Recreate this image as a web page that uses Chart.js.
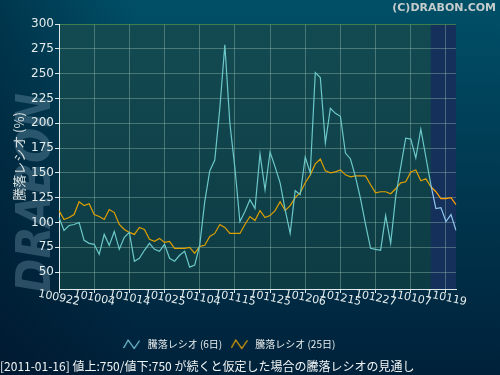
<!DOCTYPE html>
<html>
<head>
<meta charset="utf-8">
<script src="https://cdn.jsdelivr.net/npm/chart.js@4.4.0/dist/chart.umd.min.js"></script>
<style>
  html, body { margin: 0; padding: 0; background: #002a40; }
  #wrap { width: 500px; height: 375px; }
</style>
</head>
<body>
<div id="wrap"><canvas id="chart" width="500" height="375"></canvas></div>
<script>
  // trading days 2010-09-22 .. 2011-01-21 (yymmdd)
  const dates = [
    "100922", "100924", "100927", "100928", "100929", "100930", "101001",
    "101004", "101005", "101006", "101007", "101008", "101012", "101013",
    "101014", "101015", "101018", "101019", "101020", "101021", "101022",
    "101025", "101026", "101027", "101028", "101029", "101101", "101102",
    "101104", "101105", "101108", "101109", "101110", "101111", "101112",
    "101115", "101116", "101117", "101118", "101119", "101122", "101124",
    "101125", "101126", "101129", "101130", "101201", "101202", "101203",
    "101206", "101207", "101208", "101209", "101210", "101213", "101214",
    "101215", "101216", "101217", "101220", "101221", "101222", "101224",
    "101227", "101228", "101229", "101230", "110104", "110105", "110106",
    "110107", "110111", "110112", "110113", "110114", "110117", "110118",
    "110119", "110120", "110121",
  ];
  const tickDates = [
    "100922", "101004", "101014", "101025", "101104", "101115",
    "101125", "101206", "101215", "101227", "110107", "110119",
  ];
  // last real day, after it the values are a projection
  const lastActual = "110114";

  const ratio6 = [
    105, 92, 97, 98, 100, 82, 79, 78, 68, 88,
    77, 91, 73, 85, 90, 61, 64, 72, 79, 73,
    71, 78, 64, 61, 67, 71, 55, 57, 77, 121,
    152, 163, 215, 279, 200, 155, 101, 111, 123, 114,
    169, 133, 171, 156, 140, 113, 89, 132, 128, 166,
    150, 251, 246, 180, 215, 210, 207, 170, 164, 146,
    124, 98, 74, 73, 72, 107, 79, 126, 156, 185,
    184, 165, 194, 166, 138, 114, 115, 101, 108, 92,
  ];
  const ratio25 = [
    112, 103, 105, 108, 121, 117, 119, 108, 106, 103,
    113, 110, 98, 93, 90, 88, 95, 93, 83, 81,
    84, 80, 81, 74, 74, 74, 75, 69, 76, 77,
    86, 89, 98, 95, 89, 89, 89, 98, 106, 102,
    112, 105, 107, 112, 121, 112, 117, 125, 130, 140,
    148, 159, 164, 152, 150, 151, 153, 148, 146, 147,
    147, 147, 138, 130, 131, 131, 129, 134, 140, 141,
    151, 153, 142, 144, 136, 131, 124, 124, 125, 118,
  ];

  const forecastIndex = dates.indexOf(lastActual);
  const gridColor = "rgba(160, 200, 185, 0.38)";
  const axisColor = "#dfe8e8";

  function zigzag(color) {
    const c = document.createElement("canvas");
    c.width = 17;
    c.height = 12;
    const g = c.getContext("2d");
    g.strokeStyle = color;
    g.lineWidth = 1.2;
    g.beginPath();
    g.moveTo(0.5, 10);
    g.lineTo(5, 2);
    g.lineTo(11, 10.5);
    g.lineTo(16.5, 2.5);
    g.stroke();
    return c;
  }

  const background = {
    id: "background",
    beforeDraw(chart) {
      const { ctx, chartArea: a } = chart;
      ctx.save();
      const bg = ctx.createLinearGradient(0, 0, 0, chart.height);
      bg.addColorStop(0, "#005068");
      bg.addColorStop(0.45, "#003a52");
      bg.addColorStop(1, "#00213a");
      ctx.fillStyle = bg;
      ctx.fillRect(0, 0, chart.width, chart.height);
      const side = ctx.createLinearGradient(0, 0, 140, 0);
      side.addColorStop(0, "rgba(0, 10, 30, 0.35)");
      side.addColorStop(1, "rgba(0, 10, 30, 0)");
      ctx.fillStyle = side;
      ctx.fillRect(0, 0, 140, chart.height);

      // watermark
      ctx.save();
      ctx.translate(50, 293);
      ctx.rotate(-Math.PI / 2);
      ctx.font = "italic bold 48px 'DejaVu Sans'";
      ctx.fillStyle = "rgba(110, 150, 170, 0.38)";
      ctx.textBaseline = "alphabetic";
      ctx.fillText("DRABON", 0, 0, 200);
      ctx.restore();

      ctx.font = "bold 11px 'DejaVu Sans'";
      ctx.fillStyle = "#c4cccc";
      ctx.textAlign = "right";
      ctx.textBaseline = "middle";
      ctx.fillText("(C)DRABON.COM", 496, 8);

      // plot area + projected zone
      const pa = ctx.createLinearGradient(0, a.top, 0, a.bottom);
      pa.addColorStop(0, "#134a51");
      pa.addColorStop(1, "#0d3b44");
      ctx.fillStyle = pa;
      ctx.fillRect(a.left, a.top, a.right - a.left, a.bottom - a.top);
      const fx = chart.scales.x.getPixelForValue(forecastIndex);
      ctx.fillStyle = "#16305c";
      ctx.fillRect(fx, a.top, a.right - fx, a.bottom - a.top);
      ctx.restore();
    },
  };

  const xLabels = {
    id: "xLabels",
    afterDraw(chart) {
      const ctx = chart.ctx;
      const x = chart.scales.x;
      ctx.save();
      ctx.font = "11px 'DejaVu Sans'";
      ctx.fillStyle = "#e4ecec";
      ctx.textAlign = "center";
      ctx.textBaseline = "middle";
      dates.forEach((d, i) => {
        if (!tickDates.includes(d)) return;
        ctx.save();
        ctx.translate(x.getPixelForValue(i), x.top + 9);
        ctx.rotate((12 * Math.PI) / 180);
        ctx.fillText(d, 0, 0);
        ctx.restore();
      });
      ctx.restore();
    },
  };

  window.onload = () => {
    const ctx = document.getElementById("chart").getContext("2d");
    new Chart(ctx, {
      type: "line",
      data: {
        labels: dates,
        datasets: [
          {
            label: "騰落レシオ (6日)",
            data: ratio6,
            borderColor: "#6cc8c8",
            borderWidth: 1.2,
            pointRadius: 0,
            pointStyle: zigzag("#7ccce0"),
            tension: 0,
            segment: {
              borderColor: (c) => (c.p0DataIndex >= forecastIndex ? "#90c8ee" : undefined),
            },
          },
          {
            label: "騰落レシオ (25日)",
            data: ratio25,
            borderColor: "#e0a000",
            borderWidth: 1.2,
            pointRadius: 0,
            pointStyle: zigzag("#f0a800"),
            tension: 0,
            segment: {
              borderColor: (c) => (c.p0DataIndex >= forecastIndex ? "#ffa200" : undefined),
            },
          },
        ],
      },
      options: {
        responsive: false,
        animation: false,
        devicePixelRatio: 1,
        layout: { padding: { top: 24, right: 44, bottom: 0, left: 0 } },
        plugins: {
          legend: {
            position: "bottom",
            labels: {
              usePointStyle: true,
              pointStyleWidth: 22,
              padding: 6,
              color: "#e8ecec",
              font: { family: "'Noto Sans CJK JP'", size: 10 },
            },
          },
          title: {
            display: true,
            position: "bottom",
            align: "start",
            text: "[2011-01-16] 値上:750/値下:750 が続くと仮定した場合の騰落レシオの見通し",
            color: "#f0f4f4",
            font: { family: "'Noto Sans CJK JP'", size: 12, weight: "normal" },
            padding: { top: 0, bottom: 1.6 },
          },
          tooltip: { enabled: false },
        },
        scales: {
          x: {
            afterFit(s) { s.height = 44; },
            border: { color: axisColor, width: 1 },
            grid: {
              color: (c) => (tickDates.includes(dates[c.index]) ? gridColor : "transparent"),
              tickColor: (c) => (tickDates.includes(dates[c.index]) ? axisColor : "transparent"),
              tickLength: 4,
            },
            ticks: { display: false, autoSkip: false },
          },
          y: {
            min: 33,
            max: 300,
            afterFit(s) { s.width = 59; },
            border: { color: axisColor, width: 1 },
            grid: {
              color: (c) => (c.tick && c.tick.value === 300 ? "rgba(70, 140, 80, 0.8)" : gridColor),
              tickColor: axisColor,
              tickLength: 4,
            },
            ticks: {
              stepSize: 25,
              includeBounds: false,
              color: "#e4ecec",
              padding: 1,
              font: { family: "'DejaVu Sans'", size: 12 },
            },
            title: {
              display: true,
              text: "騰落レシオ (%)",
              color: "#d8e0e0",
              font: { family: "'Noto Sans CJK JP'", size: 13 },
              padding: { top: 11, bottom: 0 },
            },
          },
        },
      },
      plugins: [background, xLabels],
    });
  };
</script>
</body>
</html>
